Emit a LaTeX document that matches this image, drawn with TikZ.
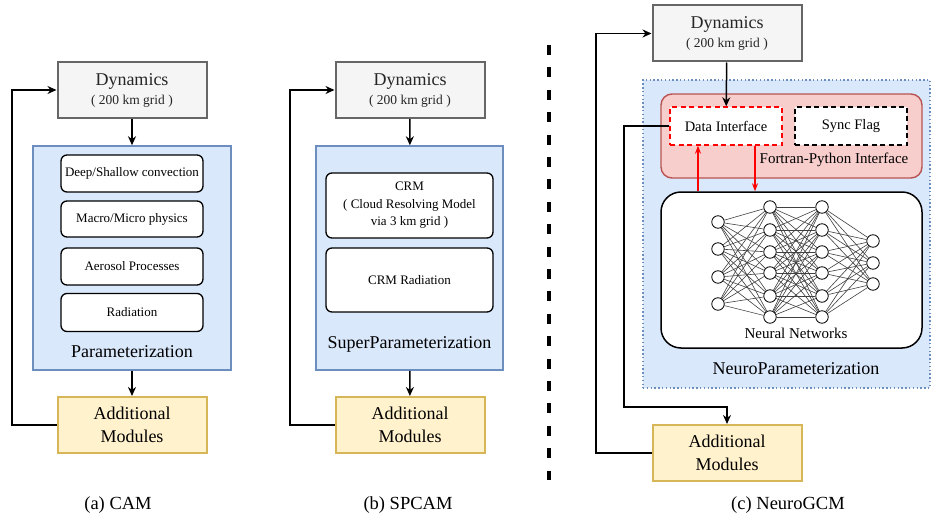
\documentclass[tikz,border=0pt]{standalone}
\usepackage{fontspec}
\setmainfont{Liberation Serif}
\usetikzlibrary{arrows.meta}

\definecolor{dynfill}{HTML}{F5F5F5}
\definecolor{dyndraw}{HTML}{666666}
\definecolor{parfill}{HTML}{DAE8FC}
\definecolor{pardraw}{HTML}{6C8EBF}
\definecolor{addfill}{HTML}{FFF2CC}
\definecolor{adddraw}{HTML}{D6B656}
\definecolor{fpifill}{HTML}{F8CECC}
\definecolor{fpidraw}{HTML}{B85450}

\newcommand{\fsz}[2]{\fontsize{#1}{#2}\selectfont}
\newcommand{\dyntext}{Dynamics\\{\fsz{13.5}{15}( 200 km grid )}}

\pgfdeclarelayer{edges}
\pgfdeclarelayer{front}
\pgfsetlayers{main,edges,front}

\tikzset{
  dynbox/.style={draw=dyndraw, fill=dynfill, line width=2pt, minimum width=149pt,
    minimum height=56pt, inner sep=0pt, align=center, font=\fsz{18}{19}, text=black!85},
  addbox/.style={draw=adddraw, fill=addfill, line width=2pt, minimum width=149pt,
    minimum height=56pt, inner sep=0pt, align=center, font=\fsz{18}{23}},
  parbox/.style={draw=pardraw, fill=parfill, line width=1.5pt, inner sep=0pt},
  procbox/.style={draw, fill=white, rounded corners=6pt, line width=1.3pt, inner sep=0pt,
    align=center, font=\fsz{13}{17.5}},
  dashbox/.style={fill=white, line width=1.4pt, dash pattern=on 5pt off 3.5pt, inner sep=0pt,
    minimum width=112pt, minimum height=38pt, font=\fsz{14.5}{16}},
  lbl/.style={inner sep=0pt, font=\fsz{18}{20}},
  arr/.style={line width=1.5pt, -{Stealth[length=9pt,width=8pt]}},
  redarr/.style={red, line width=1.2pt, -{Stealth[length=8pt,width=6pt]}},
  neuron/.style={circle, draw, fill=white, line width=0.8pt, minimum size=12.5pt, inner sep=0pt},
  syn/.style={draw=black!75, line width=0.6pt},
  captext/.style={inner sep=0pt, font=\fsz{18.5}{20}}
}

\begin{document}
\begin{tikzpicture}[x=1pt, y=-1pt]
  \useasboundingbox (0,0) rectangle (932,519);

  % (a) CAM
  \node[dynbox] (dynA) at (132,90) {\dyntext};
  \node[parbox, minimum width=198pt, minimum height=224pt] (parA) at (132,258) {};
  \node[procbox, minimum width=142pt, minimum height=37pt] (deepA) at (132,173.5) {Deep/Shallow convection};
  \node[procbox, minimum width=142pt, minimum height=36pt] (macroA) at (132,219) {Macro/Micro physics};
  \node[procbox, minimum width=142pt, minimum height=37pt] (aeroA) at (132,266.5) {Aerosol Processes};
  \node[procbox, minimum width=142pt, minimum height=38pt] (radA) at (132,312.5) {Radiation};
  \node[lbl] (parlabA) at (132,352) {Parameterization};
  \node[addbox] (addA) at (132,425) {Additional\\Modules};
  \coordinate (loopA) at (12,425);
  \draw[arr] (dynA) -- (parA);
  \draw[arr] (parA) -- (addA);
  \draw[arr] (addA.west) -- (loopA) |- (dynA.west);

  % (b) SPCAM
  \node[dynbox] (dynB) at (410,90) {\dyntext};
  \node[parbox, minimum width=187pt, minimum height=224pt] (parB) at (409.5,258) {};
  \node[procbox, minimum width=167pt, minimum height=65pt] (crmB) at (409.5,205.5)
    {CRM\\( Cloud Resolving Model\\via 3 km grid )};
  \node[procbox, minimum width=167pt, minimum height=64pt] (crmradB) at (409.5,280) {CRM Radiation};
  \node[lbl] (parlabB) at (409.5,344) {SuperParameterization};
  \node[addbox] (addB) at (410,425) {Additional\\Modules};
  \coordinate (loopB) at (290,425);
  \draw[arr] (dynB) -- (parB);
  \draw[arr] (parB) -- (addB);
  \draw[arr] (addB.west) -- (loopB) |- (dynB.west);

  % separator
  \coordinate (sepTop) at (549,45);
  \coordinate (sepBot) at (549,480);
  \draw[line width=4pt, dash pattern=on 10pt off 12.4pt] (sepTop) -- (sepBot);

  % (c) NeuroGCM
  \node[dynbox] (dynC) at (727,33.5) {\dyntext};
  \node[parbox, dash pattern=on 1.4pt off 2.4pt, minimum width=287pt, minimum height=308pt] (neuroC) at (786.5,234) {};
  \node[draw=fpidraw, fill=fpifill, line width=1.4pt, rounded corners=11pt, inner sep=0pt,
    minimum width=261pt, minimum height=84pt] (fpiC) at (791.5,136) {};
  \node[dashbox, draw=red] (dataC) at (726,126) {Data Interface};
  \node[dashbox, draw=black] (syncC) at (851,126) {Sync Flag};
  \node[inner sep=0pt, font=\fsz{15}{16}] (fpilabC) at (834,160) {Fortran-Python Interface};
  \node[draw, fill=white, line width=1.5pt, rounded corners=20pt, inner sep=0pt,
    minimum width=261pt, minimum height=156pt] (nnC) at (791.5,270) {};
  \node[inner sep=0pt, font=\fsz{15}{16}] (nnlabC) at (796,333) {Neural Networks};
  \node[lbl] (parlabC) at (796,369) {NeuroParameterization};
  \node[addbox] (addC) at (727,453) {Additional\\Modules};

  % neural network
  \begin{pgfonlayer}{front}
    \foreach \y [count=\i] in {222,249,277,304} \node[neuron] (na\i) at (718,\y) {};
    \foreach \y [count=\i] in {207,230,252,273,296,317} \node[neuron] (nb\i) at (770,\y) {};
    \foreach \y [count=\i] in {207,230,252,273,296,317} \node[neuron] (nc\i) at (822,\y) {};
    \foreach \y [count=\i] in {241,263,284} \node[neuron] (nd\i) at (873,\y) {};
  \end{pgfonlayer}
  \begin{pgfonlayer}{edges}
    \foreach \i in {1,...,4} \foreach \j in {1,...,6} \draw[syn] (na\i) -- (nb\j);
    \foreach \i in {1,...,6} \foreach \j in {1,...,6} \draw[syn] (nb\i) -- (nc\j);
    \foreach \i in {1,...,6} \foreach \j in {1,...,3} \draw[syn] (nc\i) -- (nd\j);
  \end{pgfonlayer}

  % connectors
  \coordinate (upC) at (698,0);
  \coordinate (downC) at (755,0);
  \coordinate (tapC) at (624,407);
  \coordinate (loopC) at (596,453);
  \draw[arr] (dynC) -- (dataC);
  \draw[redarr] (nnC.north -| upC) -- (dataC.south -| upC);
  \draw[redarr] (dataC.south -| downC) -- (nnC.north -| downC);
  \draw[arr] (dataC.west) -| (tapC) -| (addC.north);
  \draw[arr] (addC.west) -- (loopC) |- (dynC.west);

  % captions
  \node[captext] (capA) at (118,505) {(a) CAM};
  \node[captext] (capB) at (408,505) {(b) SPCAM};
  \node[captext] (capC) at (788,505) {(c) NeuroGCM};
\end{tikzpicture}
\end{document}
